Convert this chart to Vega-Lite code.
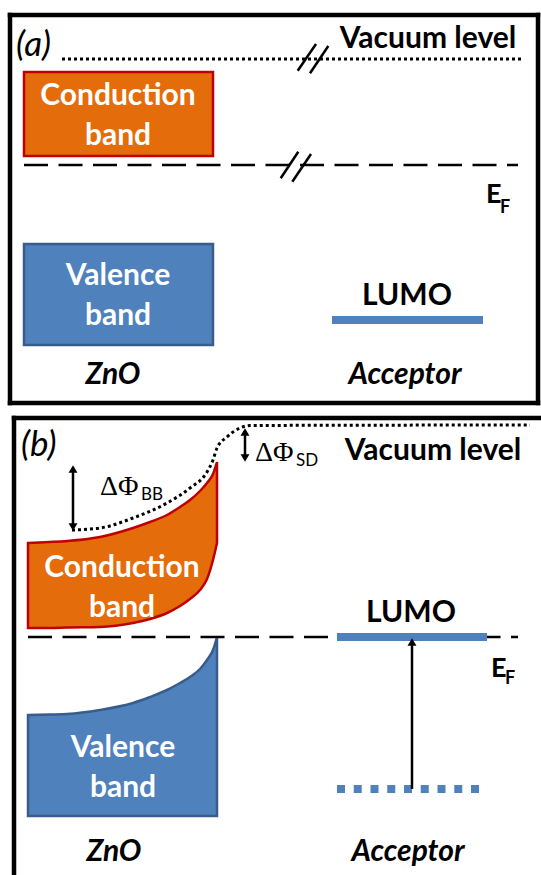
{
  "$schema": "https://vega.github.io/schema/vega-lite/v6.json",
  "width": 541,
  "height": 875,
  "autosize": "none",
  "padding": 0,
  "background": "white",
  "config": {"view": {"stroke": null}},
  "datasets": {
    "frame": [
      {"x": 10, "y": 15, "x2": 538, "y2": 15},
      {"x": 10, "y": 403, "x2": 538, "y2": 403},
      {"x": 10, "y": 15, "x2": 10, "y2": 403},
      {"x": 538, "y": 15, "x2": 538, "y2": 403},
      {"x": 14, "y": 418, "x2": 541, "y2": 418},
      {"x": 14, "y": 418, "x2": 14, "y2": 875}
    ],
    "condA": [{"x": 24, "x2": 213, "y": 72, "y2": 156}],
    "valA": [{"x": 24, "x2": 213, "y": 244, "y2": 345}],
    "condB": [
      {"x": 28, "y": 543, "y2": 628},
      {"x": 50, "y": 542, "y2": 628},
      {"x": 67, "y": 541, "y2": 627.5},
      {"x": 100, "y": 537, "y2": 627},
      {"x": 133, "y": 528, "y2": 623},
      {"x": 150, "y": 522, "y2": 619},
      {"x": 167, "y": 515, "y2": 613},
      {"x": 180, "y": 507, "y2": 606},
      {"x": 190, "y": 500, "y2": 599},
      {"x": 200, "y": 491, "y2": 590},
      {"x": 207, "y": 483, "y2": 579},
      {"x": 213, "y": 474, "y2": 560},
      {"x": 217, "y": 462, "y2": 543}
    ],
    "valB": [
      {"x": 28, "y": 715, "y2": 816},
      {"x": 50, "y": 714.5, "y2": 816},
      {"x": 67, "y": 714, "y2": 816},
      {"x": 100, "y": 710, "y2": 816},
      {"x": 133, "y": 703, "y2": 816},
      {"x": 150, "y": 697, "y2": 816},
      {"x": 167, "y": 690, "y2": 816},
      {"x": 180, "y": 683, "y2": 816},
      {"x": 190, "y": 677, "y2": 816},
      {"x": 200, "y": 669, "y2": 816},
      {"x": 207, "y": 660, "y2": 816},
      {"x": 213, "y": 650, "y2": 816},
      {"x": 217, "y": 637, "y2": 816}
    ],
    "dotted": [
      {"seg": "a", "x": 62, "y": 59},
      {"seg": "a", "x": 523, "y": 59},
      {"seg": "b", "x": 72, "y": 530},
      {"seg": "b", "x": 100, "y": 528},
      {"seg": "b", "x": 133, "y": 518},
      {"seg": "b", "x": 167, "y": 503},
      {"seg": "b", "x": 190, "y": 488},
      {"seg": "b", "x": 207, "y": 472},
      {"seg": "b", "x": 213, "y": 460},
      {"seg": "b", "x": 217, "y": 448},
      {"seg": "b", "x": 227, "y": 437},
      {"seg": "b", "x": 240, "y": 428},
      {"seg": "b", "x": 250, "y": 425.5},
      {"seg": "b", "x": 530, "y": 425}
    ],
    "dashed": [
      {"seg": "a", "x": 24, "y": 165},
      {"seg": "a", "x": 518, "y": 165},
      {"seg": "b", "x": 28, "y": 637},
      {"seg": "b", "x": 518, "y": 637}
    ],
    "slashes": [
      {"x": 297.7, "y": 70.7, "x2": 316, "y2": 44},
      {"x": 310, "y": 73.3, "x2": 328.3, "y2": 46},
      {"x": 280.7, "y": 178.3, "x2": 298.3, "y2": 151.7},
      {"x": 292.3, "y": 181.7, "x2": 311, "y2": 154}
    ],
    "lumo": [
      {"x": 332, "y": 320, "x2": 483, "y2": 320},
      {"x": 337, "y": 637, "x2": 487, "y2": 637}
    ],
    "lumoDots": [{"x": 337, "y": 789, "x2": 479, "y2": 789}],
    "shafts": [
      {"x": 73, "y": 468, "x2": 73, "y2": 528},
      {"x": 245, "y": 431, "x2": 245, "y2": 459},
      {"x": 412, "y": 644, "x2": 412, "y2": 789}
    ],
    "heads": [
      {"x": 73, "y": 469, "dir": "up"},
      {"x": 73, "y": 527, "dir": "down"},
      {"x": 245, "y": 432, "dir": "up"},
      {"x": 245, "y": 458, "dir": "down"},
      {"x": 412, "y": 642, "dir": "up"}
    ],
    "bandText": [
      {"x": 118, "y": 105, "label": "Conduction"},
      {"x": 118, "y": 145, "label": "band"},
      {"x": 118, "y": 285, "label": "Valence"},
      {"x": 118, "y": 325, "label": "band"},
      {"x": 122, "y": 577, "label": "Conduction"},
      {"x": 122, "y": 617, "label": "band"},
      {"x": 123, "y": 757, "label": "Valence"},
      {"x": 123, "y": 797, "label": "band"}
    ],
    "boldText": [
      {"x": 428, "y": 48, "label": "Vacuum level"},
      {"x": 433, "y": 460, "label": "Vacuum level"},
      {"x": 407, "y": 305, "label": "LUMO"},
      {"x": 411, "y": 622, "label": "LUMO"}
    ],
    "italicText": [
      {"x": 113, "y": 384, "label": "ZnO"},
      {"x": 405, "y": 384, "label": "Acceptor"},
      {"x": 114, "y": 861, "label": "ZnO"},
      {"x": 408, "y": 861, "label": "Acceptor"}
    ],
    "panelText": [
      {"x": 16, "y": 56, "label": "(a)"},
      {"x": 21, "y": 456, "label": "(b)"}
    ],
    "eText": [
      {"x": 486, "y": 203, "label": "E"},
      {"x": 491, "y": 677, "label": "E"}
    ],
    "fText": [
      {"x": 500, "y": 213, "label": "F"},
      {"x": 505, "y": 684, "label": "F"}
    ],
    "phiText": [
      {"x": 255, "y": 461, "label": "ΔΦ"},
      {"x": 100, "y": 495, "label": "ΔΦ"}
    ],
    "subText": [
      {"x": 296, "y": 466, "label": "SD"},
      {"x": 141, "y": 500, "label": "BB"}
    ]
  },
  "encoding": {
    "x": {"field": "x", "type": "quantitative", "scale": {"domain": [0, 541], "nice": false, "zero": false}, "axis": null},
    "y": {"field": "y", "type": "quantitative", "scale": {"domain": [0, 875], "reverse": true, "nice": false, "zero": false}, "axis": null}
  },
  "layer": [
    {
      "data": {"name": "condA"},
      "mark": {"type": "rect", "fill": "#E46C0A", "stroke": "#C00000", "strokeWidth": 2.5},
      "encoding": {"x2": {"field": "x2"}, "y2": {"field": "y2"}}
    },
    {
      "data": {"name": "valA"},
      "mark": {"type": "rect", "fill": "#4F81BD", "stroke": "#385D8A", "strokeWidth": 2.5},
      "encoding": {"x2": {"field": "x2"}, "y2": {"field": "y2"}}
    },
    {
      "data": {"name": "condB"},
      "mark": {"type": "area", "orient": "vertical", "interpolate": "monotone", "fill": "#E46C0A", "stroke": "#C00000", "strokeWidth": 2.5},
      "encoding": {
        "y": {"field": "y", "type": "quantitative", "stack": null, "scale": {"domain": [0, 875], "reverse": true, "nice": false, "zero": false}, "axis": null},
        "y2": {"field": "y2"}
      }
    },
    {
      "data": {"name": "valB"},
      "mark": {"type": "area", "orient": "vertical", "interpolate": "monotone", "fill": "#4F81BD", "stroke": "#385D8A", "strokeWidth": 2.5},
      "encoding": {
        "y": {"field": "y", "type": "quantitative", "stack": null, "scale": {"domain": [0, 875], "reverse": true, "nice": false, "zero": false}, "axis": null},
        "y2": {"field": "y2"}
      }
    },
    {
      "data": {"name": "dotted"},
      "mark": {"type": "line", "interpolate": "monotone", "color": "black", "strokeWidth": 3, "strokeDash": [3, 3]},
      "encoding": {"detail": {"field": "seg"}}
    },
    {
      "data": {"name": "dashed"},
      "mark": {"type": "line", "color": "black", "strokeWidth": 2.5, "strokeDash": [24, 10.5]},
      "encoding": {"detail": {"field": "seg"}}
    },
    {
      "data": {"name": "slashes"},
      "mark": {"type": "rule", "color": "black", "strokeWidth": 2.5},
      "encoding": {"x2": {"field": "x2"}, "y2": {"field": "y2"}}
    },
    {
      "data": {"name": "lumo"},
      "mark": {"type": "rule", "color": "#4F81BD", "strokeWidth": 8},
      "encoding": {"x2": {"field": "x2"}, "y2": {"field": "y2"}}
    },
    {
      "data": {"name": "lumoDots"},
      "mark": {"type": "rule", "color": "#4F81BD", "strokeWidth": 8, "strokeDash": [8, 8.75]},
      "encoding": {"x2": {"field": "x2"}, "y2": {"field": "y2"}}
    },
    {
      "data": {"name": "shafts"},
      "mark": {"type": "rule", "color": "black", "strokeWidth": 2.5},
      "encoding": {"x2": {"field": "x2"}, "y2": {"field": "y2"}}
    },
    {
      "data": {"name": "heads"},
      "mark": {"type": "point", "filled": true, "color": "black", "opacity": 1, "size": 80},
      "encoding": {
        "shape": {"field": "dir", "type": "nominal", "scale": {"domain": ["up", "down"], "range": ["triangle-up", "triangle-down"]}, "legend": null}
      }
    },
    {
      "data": {"name": "frame"},
      "mark": {"type": "rule", "color": "black", "strokeWidth": 4.5, "strokeCap": "square"},
      "encoding": {"x2": {"field": "x2"}, "y2": {"field": "y2"}}
    },
    {
      "data": {"name": "bandText"},
      "mark": {"type": "text", "font": "Lato", "fontWeight": "bold", "fontSize": 30, "color": "white", "align": "center", "baseline": "alphabetic"},
      "encoding": {"text": {"field": "label"}}
    },
    {
      "data": {"name": "boldText"},
      "mark": {"type": "text", "font": "Lato", "fontWeight": "bold", "fontSize": 30, "color": "black", "align": "center", "baseline": "alphabetic"},
      "encoding": {"text": {"field": "label"}}
    },
    {
      "data": {"name": "italicText"},
      "mark": {"type": "text", "font": "Lato", "fontWeight": "bold", "fontStyle": "italic", "fontSize": 30, "color": "black", "align": "center", "baseline": "alphabetic"},
      "encoding": {"text": {"field": "label"}}
    },
    {
      "data": {"name": "panelText"},
      "mark": {"type": "text", "font": "Lato", "fontStyle": "italic", "fontSize": 35, "color": "black", "align": "left", "baseline": "alphabetic"},
      "encoding": {"text": {"field": "label"}}
    },
    {
      "data": {"name": "eText"},
      "mark": {"type": "text", "font": "Lato", "fontWeight": "bold", "fontSize": 27, "color": "black", "align": "left", "baseline": "alphabetic"},
      "encoding": {"text": {"field": "label"}}
    },
    {
      "data": {"name": "fText"},
      "mark": {"type": "text", "font": "Lato", "fontWeight": "bold", "fontSize": 18, "color": "black", "align": "left", "baseline": "alphabetic"},
      "encoding": {"text": {"field": "label"}}
    },
    {
      "data": {"name": "phiText"},
      "mark": {"type": "text", "font": "Liberation Serif", "fontSize": 28, "color": "black", "align": "left", "baseline": "alphabetic"},
      "encoding": {"text": {"field": "label"}}
    },
    {
      "data": {"name": "subText"},
      "mark": {"type": "text", "font": "Lato", "fontSize": 17, "color": "black", "align": "left", "baseline": "alphabetic"},
      "encoding": {"text": {"field": "label"}}
    }
  ]
}
